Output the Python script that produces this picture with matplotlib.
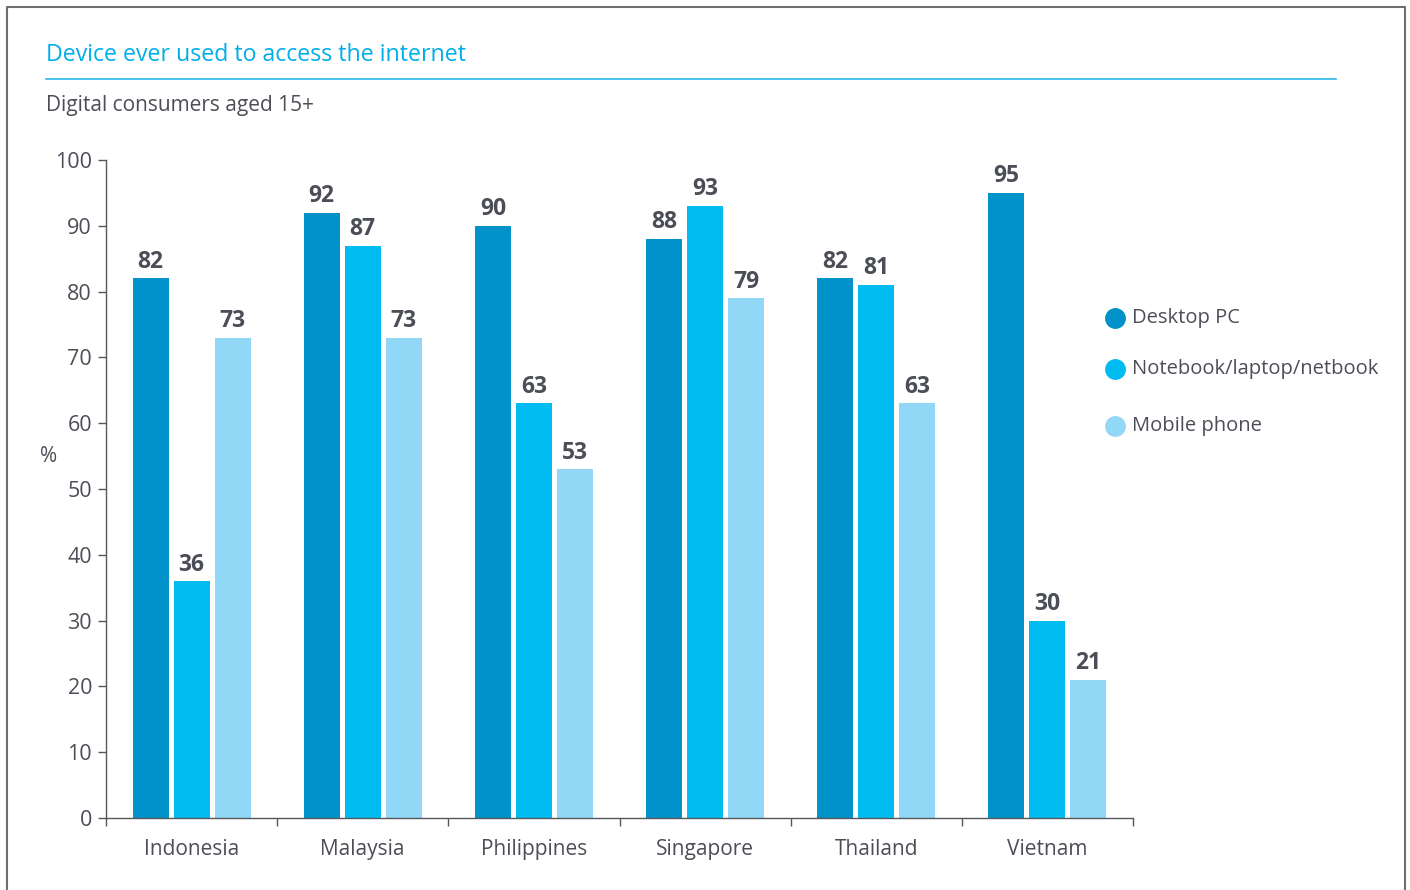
import matplotlib.pyplot as plt
from matplotlib.lines import Line2D
import numpy as np

# Share of digital consumers (15+) by device used to go online
countries = ["Indonesia", "Malaysia", "Philippines", "Singapore", "Thailand", "Vietnam"]
desktop = [82, 92, 90, 88, 82, 95]
notebook = [36, 87, 63, 93, 81, 30]
mobile = [73, 73, 53, 79, 63, 21]
series_names = ["Desktop PC", "Notebook/laptop/netbook", "Mobile phone"]
yticks = [0, 10, 20, 30, 40, 50, 60, 70, 80, 90, 100]

colors = ["#0092c8", "#00bcf1", "#91d8f6"]
text_grey = "#4b4e56"
axis_grey = "#55575d"

plt.rcParams["font.family"] = ["Open Sans", "DejaVu Sans"]

W, H = 1410, 890
fig = plt.figure(figsize=(W / 100, H / 100), dpi=100)
ax = fig.add_axes([106 / W, 1 - 818 / H, (1133 - 106) / W, (818 - 160) / H])

x = np.arange(len(countries))
bar_w = 36 / 171
step = 41 / 171
for i, vals in enumerate([desktop, notebook, mobile]):
    pos = x + (i - 1) * step
    ax.bar(pos, vals, width=bar_w, color=colors[i], zorder=2)
    for p, v in zip(pos, vals):
        ax.text(p, v + 0.7, str(v), ha="center", va="bottom",
                fontsize=16.5, fontweight="bold", color=text_grey)

ax.set_xlim(-0.5, len(countries) - 0.5)
ax.set_ylim(0, 100)
ax.set_yticks(yticks)
ax.tick_params(axis="y", labelsize=15.5, colors=text_grey, length=6,
               width=1, pad=4, color=axis_grey)

# category labels between boundary ticks
ax.set_xticks(np.arange(len(countries) + 1) - 0.5)
ax.set_xticklabels([])
ax.set_xticks(x, minor=True)
ax.set_xticklabels(countries, minor=True)
ax.tick_params(axis="x", which="major", length=6, width=1, color=axis_grey)
ax.tick_params(axis="x", which="minor", length=0, labelsize=15,
               colors=text_grey, pad=15)

for side in ["top", "right"]:
    ax.spines[side].set_visible(False)
for side in ["left", "bottom"]:
    ax.spines[side].set_color(axis_grey)
    ax.spines[side].set_linewidth(1)

ax.text(-0.056, 0.55, "%", transform=ax.transAxes, fontsize=15,
        color=text_grey, ha="center", va="center")

# titles and rule
fig.text(46 / W, 1 - 55 / H, "Device ever used to access the internet",
         fontsize=16.7, color="#00aeea", va="center", ha="left")
fig.add_artist(Line2D([46 / W, 1336 / W], [1 - 79 / H, 1 - 79 / H],
                      color="#2bb7e8", lw=1.2, transform=fig.transFigure))
fig.text(46 / W, 1 - 105 / H, "Digital consumers aged 15+",
         fontsize=15, color=text_grey, va="center", ha="left")

# legend entries
legend_y = [318, 369, 426]
for name, c, yy in zip(series_names, colors, legend_y):
    fig.add_artist(Line2D([1115 / W], [1 - yy / H], marker="o", markersize=14,
                          color=c, linestyle="none", transform=fig.transFigure))
    fig.text(1132 / W, 1 - yy / H, name, fontsize=14.5, color=text_grey,
             va="center", ha="left")

# frame around the panel
frame_c = "#6e6f73"
fig.add_artist(Line2D([7 / W, 7 / W, 1405 / W, 1405 / W],
                      [0, 1 - 7 / H, 1 - 7 / H, 0],
                      color=frame_c, lw=1.5, transform=fig.transFigure))

fig.savefig("out.png", dpi=100, facecolor="white")
